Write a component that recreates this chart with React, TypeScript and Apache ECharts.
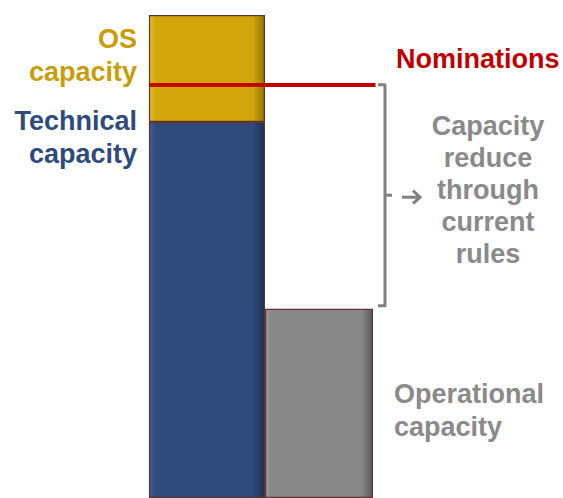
import React, { useEffect, useRef } from 'react';
import * as echarts from 'echarts';

const categories = ['Current', 'Operational'];
const technicalCapacity: (number | string)[] = [75.5, '-'];
const osCapacity: (number | string)[] = [21.5, '-'];
const operationalCapacity: (number | string)[] = ['-', 38];
const nominations = 83;

const leftLabelsOS = ['OS', 'capacity'];
const leftLabelsTech = ['Technical', 'capacity'];
const reduceLabels = ['Capacity', 'reduce', 'through', 'current', 'rules'];
const operationalLabels = ['Operational', 'capacity'];
const nominationsLabel = 'Nominations';

const FONT = '"Liberation Sans", Arial, sans-serif';

function bevel(base: string, light: string, dark: string) {
  return new echarts.graphic.LinearGradient(0, 0, 1, 0, [
    { offset: 0, color: light },
    { offset: 0.06, color: base },
    { offset: 0.9, color: base },
    { offset: 1, color: dark },
  ]);
}

export default function App() {
  const ref = useRef<HTMLDivElement>(null);
  useEffect(() => {
    if (!ref.current) return;
    const chart = echarts.init(ref.current, null, { renderer: 'svg' });
    chart.setOption({
      animation: false,
      backgroundColor: '#ffffff',
      grid: { left: 149.5, right: 187.5, top: 0, bottom: 0 },
      xAxis: [
        { type: 'category', data: categories, show: false, gridIndex: 0 },
        { type: 'category', data: categories, show: false, gridIndex: 0 },
      ],
      yAxis: { type: 'value', min: 0, max: 100, show: false },
      series: [
        {
          type: 'bar',
          name: 'Technical capacity',
          xAxisIndex: 0,
          stack: 'a',
          barWidth: 118,
          data: technicalCapacity,
          itemStyle: {
            color: bevel('#2F4B7B', '#3E5C8E', '#1C2F50'),
            borderColor: '#5E3434',
            borderWidth: 1.2,
          },
        },
        {
          type: 'bar',
          name: 'OS capacity',
          xAxisIndex: 0,
          stack: 'a',
          barWidth: 118,
          data: osCapacity,
          itemStyle: {
            color: bevel('#D2A50A', '#E8BC1E', '#967305'),
            borderColor: '#5E3434',
            borderWidth: 1.2,
          },
          markLine: {
            silent: true,
            symbol: 'none',
            label: { show: false },
            lineStyle: { color: '#C00000', width: 4, type: 'solid' },
            data: [{ yAxis: nominations }],
          },
        },
        {
          type: 'bar',
          name: 'Operational capacity',
          xAxisIndex: 1,
          stack: 'b',
          barWidth: 108,
          data: operationalCapacity,
          itemStyle: {
            color: bevel('#878787', '#9A9A9A', '#5A5A5A'),
            borderColor: '#6A3030',
            borderWidth: 1.2,
          },
        },
      ],
    });

    const yNom = chart.convertToPixel({ yAxisIndex: 0 }, nominations) as number;
    const yOp = (chart.convertToPixel({ yAxisIndex: 0 }, operationalCapacity[1] as number) as number) - 3;
    const yMid = (yNom + yOp) / 2;
    const grey = '#8A8A8A';
    const textStyle = (fill: string, align: string) => ({
      fill,
      fontSize: 27,
      fontWeight: 'bold',
      fontFamily: FONT,
      align,
      verticalAlign: 'middle',
    });
    const elements: any[] = [];
    leftLabelsOS.forEach((t, i) =>
      elements.push({ type: 'text', x: 137, y: 39 + i * 33, style: { text: t, ...textStyle('#C89D08', 'right') } })
    );
    leftLabelsTech.forEach((t, i) =>
      elements.push({ type: 'text', x: 137, y: 121 + i * 33, style: { text: t, ...textStyle('#2F4B7B', 'right') } })
    );
    elements.push({ type: 'text', x: 396, y: 59, style: { text: nominationsLabel, ...textStyle('#C00000', 'left') } });
    reduceLabels.forEach((t, i) =>
      elements.push({ type: 'text', x: 488, y: 126 + i * 32, style: { text: t, ...textStyle(grey, 'center') } })
    );
    operationalLabels.forEach((t, i) =>
      elements.push({ type: 'text', x: 394, y: 394 + i * 33, style: { text: t, ...textStyle(grey, 'left') } })
    );
    elements.push({
      type: 'polyline',
      shape: { points: [[378, yNom], [385, yNom], [385, yOp], [378, yOp]] },
      style: { stroke: '#808080', lineWidth: 3, fill: 'none', lineJoin: 'round' },
    });
    elements.push({
      type: 'line',
      shape: { x1: 385, y1: yMid, x2: 392, y2: yMid },
      style: { stroke: '#808080', lineWidth: 3 },
    });
    elements.push({
      type: 'line',
      shape: { x1: 402, y1: yMid + 2, x2: 420, y2: yMid + 2 },
      style: { stroke: '#808080', lineWidth: 3 },
    });
    elements.push({
      type: 'polyline',
      shape: { points: [[413, yMid - 4.5], [420, yMid + 2], [413, yMid + 8.5]] },
      style: { stroke: '#808080', lineWidth: 3, fill: 'none' },
    });
    chart.setOption({ graphic: { elements } });

    return () => chart.dispose();
  }, []);
  return (
    <div
      ref={ref}
      style={{ position: 'fixed', left: 0, top: 0, width: 563, height: 498, background: '#fff' }}
    />
  );
}
